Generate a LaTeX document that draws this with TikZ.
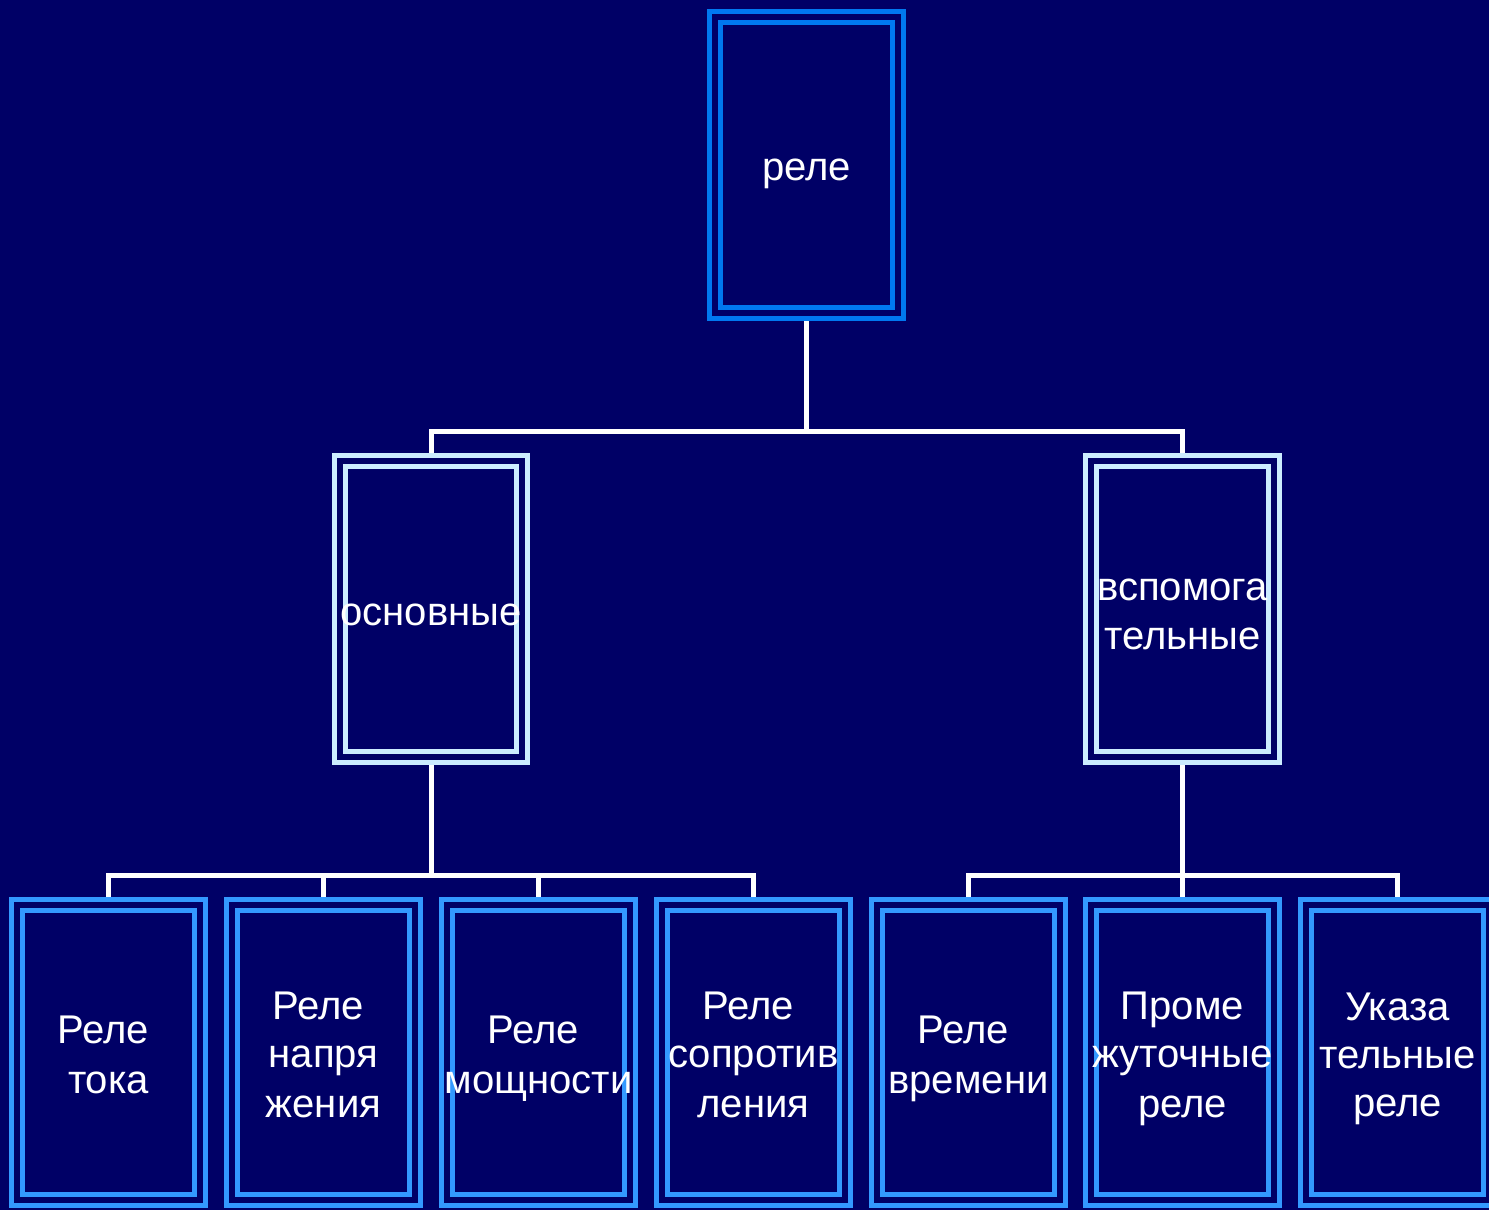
\documentclass[tikz,border=0pt]{standalone}
\usepackage{fontspec}
\setmainfont{Liberation Sans}
\usetikzlibrary{positioning}
\definecolor{navyBg}{RGB}{0,0,102}
\definecolor{rootBlue}{RGB}{0,120,240}
\definecolor{paleBlue}{RGB}{204,236,255}
\definecolor{skyBlue}{RGB}{51,153,255}
\newcommand{\wideline}[1]{\makebox[0pt]{#1}}
\newcommand{\boxstrut}{\rule[-0.16cm]{0pt}{0.96cm}}
\tikzset{
    relbox/.style={rectangle, draw=#1, double=navyBg, line width=0.1cm, double distance=0.12cm,
                   fill=navyBg, minimum width=3.66cm, minimum height=5.92cm, text width=3.5cm,
                   inner sep=0pt, outer sep=0pt, align=center, text=white,
                   font=\fontsize{22.8}{27.3}\selectfont,
                   execute at begin node=\boxstrut, execute at end node=\boxstrut},
    relbox/.default=skyBlue,
    link/.style={draw=white, line width=0.1cm}
}
\begin{document}
\begin{tikzpicture}[x=0.02cm, y=-0.02cm]
    % Background
    \fill[navyBg] (0,0) rectangle (1489,1210);
    \useasboundingbox (0,0) rectangle (1489,1210);

    % Bus points
    \coordinate (busTop) at (806.5,431);
    \coordinate (busL) at (431,875);
    \coordinate (busR) at (1182.5,875);

    % Connectors
    \draw[link] (806.5,313) -- (busTop);
    \draw[link] (431,461) |- (busTop);
    \draw[link] (1182.5,461) |- (busTop);
    \draw[link] (431,757) -- (busL);
    \draw[link] (108.5,905) |- (busL);
    \draw[link] (323.5,905) |- (busL);
    \draw[link] (538.5,905) |- (busL);
    \draw[link] (753.5,905) |- (busL);
    \draw[link] (1182.5,757) -- (busR);
    \draw[link] (968.5,905) |- (busR);
    \draw[link] (1182.5,905) -- (busR);
    \draw[link] (1397.5,905) |- (busR);

    % Root
    \node[relbox=rootBlue] (rele) at (806.5,165) {реле};

    % Second level
    \node[relbox=paleBlue] (osn) at (431,609) {\wideline{основные}};
    \node[relbox=paleBlue] (vsp) at (1182.5,609) {\wideline{вспомога}\\тельные};

    % Third level
    \node[relbox] (tok) at (108.5,1052.5) {Реле\kern0.25em\\тока};
    \node[relbox] (napr) at (323.5,1052.5) {Реле\kern0.25em\\напря\\жения};
    \node[relbox] (mosch) at (538.5,1052.5) {Реле\kern0.25em\\\wideline{мощности}};
    \node[relbox] (sopr) at (753.5,1052.5) {Реле\kern0.25em\\\wideline{сопротив}\\ления};
    \node[relbox] (vrem) at (968.5,1052.5) {Реле\kern0.25em\\\wideline{времени}};
    \node[relbox] (prom) at (1182.5,1052.5) {Проме\\\wideline{жуточные}\\реле};
    \node[relbox] (ukaz) at (1397.5,1052.5) {Указа\\\wideline{тельные}\\реле};
\end{tikzpicture}
\end{document}
